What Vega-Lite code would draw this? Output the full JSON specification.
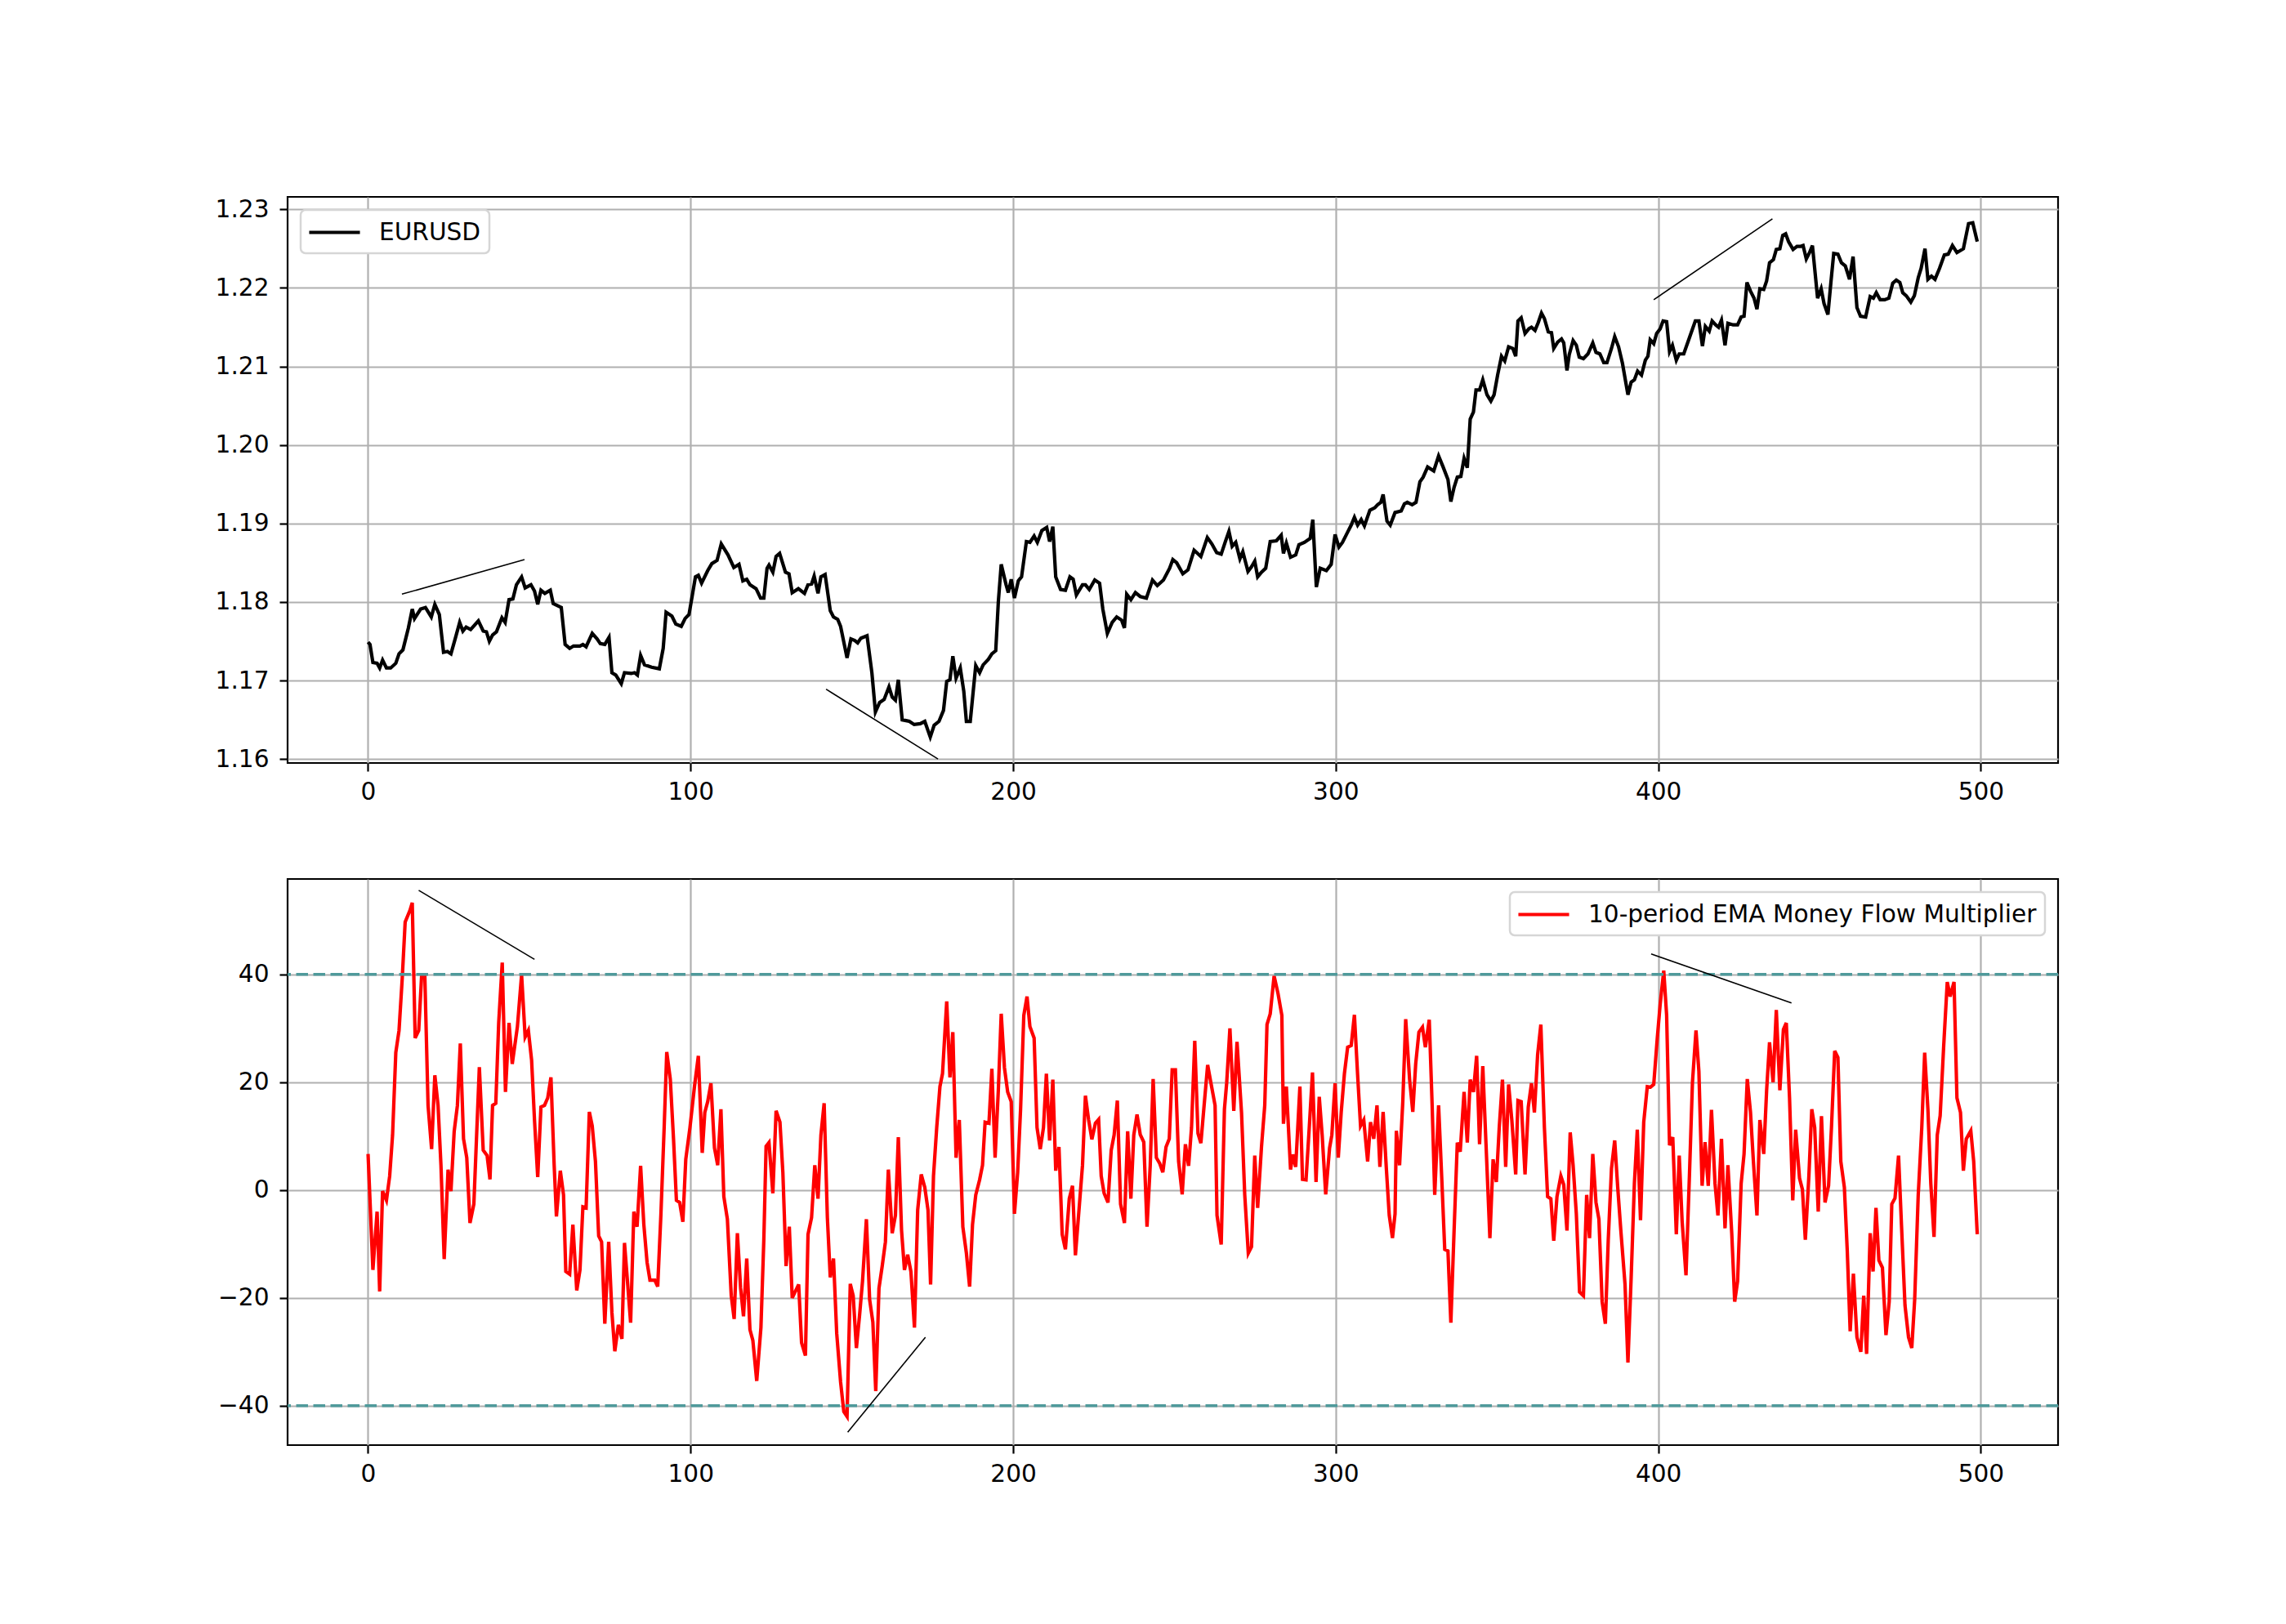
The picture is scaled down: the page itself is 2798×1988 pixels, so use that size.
{
"$schema": "https://vega.github.io/schema/vega-lite/v6.json",
"background": "white",
"padding": {"left": 262, "top": 239, "right": 10, "bottom": 10},
"spacing": 142,
"bounds": "flush",
"resolve": {"scale": {"color": "independent"}, "legend": {"color": "independent"}},
"config": {
  "font": "DejaVu Sans",
  "view": {"stroke": "black", "strokeWidth": 2.2},
  "axis": {"labelFont": "DejaVu Sans", "labelFontSize": 29.6, "labelColor": "black", "tickColor": "black", "tickSize": 10, "tickWidth": 2.2, "gridColor": "#b0b0b0", "gridWidth": 2.2, "domain": false, "title": null},
  "axisX": {"labelPadding": 11},
  "axisY": {"labelPadding": 13},
  "legend": {"title": null, "offset": 16, "labelFont": "DejaVu Sans", "labelFontSize": 29.6, "labelColor": "black", "labelLimit": 0, "strokeColor": "#d6d6d6", "strokeWidth": 2.5, "fillColor": "white", "cornerRadius": 6, "padding": 10, "symbolType": "M-2.07,0H2.07", "symbolSize": 900, "symbolStrokeWidth": 4.2, "symbolOffset": 14, "labelOffset": 37}
},
"datasets": {
"price": [
{"i":0,"p":1.1749},{"i":0.6,"p":1.1746},{"i":1.5,"p":1.1723},{"i":2.8,"p":1.1722},{"i":3.6,"p":1.1716},{"i":4.5,"p":1.1726},{"i":5.7,"p":1.1716},{"i":7,"p":1.1716},{"i":8.6,"p":1.1722},{"i":9.6,"p":1.1734},{"i":10.8,"p":1.1739},{"i":12.5,"p":1.1767},{"i":13.7,"p":1.1791},{"i":14.4,"p":1.1779},{"i":16.3,"p":1.1791},{"i":17.8,"p":1.1793},{"i":19.6,"p":1.1781},{"i":20.7,"p":1.1797},{"i":22.1,"p":1.1784},{"i":23.4,"p":1.1736},{"i":24.6,"p":1.1737},{"i":25.7,"p":1.1734},{"i":27,"p":1.1753},{"i":28.4,"p":1.1774},{"i":29.4,"p":1.1763},{"i":30.4,"p":1.1768},{"i":31.8,"p":1.1765},{"i":34.2,"p":1.1776},{"i":35.7,"p":1.1763},{"i":36.7,"p":1.1762},{"i":37.6,"p":1.175},{"i":38.6,"p":1.1758},{"i":39.8,"p":1.1762},{"i":41.5,"p":1.178},{"i":42.5,"p":1.1774},{"i":43.7,"p":1.1803},{"i":44.9,"p":1.1804},{"i":46,"p":1.1822},{"i":47.6,"p":1.1832},{"i":48.7,"p":1.1818},{"i":50.5,"p":1.1822},{"i":51.6,"p":1.1814},{"i":52.6,"p":1.1797},{"i":53.6,"p":1.1815},{"i":54.8,"p":1.1811},{"i":56.5,"p":1.1815},{"i":57.4,"p":1.1798},{"i":59.9,"p":1.1793},{"i":61.1,"p":1.1746},{"i":62.5,"p":1.1741},{"i":63.7,"p":1.1744},{"i":65.7,"p":1.1744},{"i":66.6,"p":1.1746},{"i":67.6,"p":1.1743},{"i":69.5,"p":1.176},{"i":71,"p":1.1753},{"i":72,"p":1.1747},{"i":73.4,"p":1.1746},{"i":74.7,"p":1.1755},{"i":75.6,"p":1.171},{"i":76.8,"p":1.1707},{"i":78.5,"p":1.1696},{"i":79.5,"p":1.171},{"i":81.6,"p":1.1709},{"i":82.6,"p":1.171},{"i":83.5,"p":1.1707},{"i":84.5,"p":1.1732},{"i":85.7,"p":1.172},{"i":87.9,"p":1.1717},{"i":90.3,"p":1.1715},{"i":91.5,"p":1.1741},{"i":92.4,"p":1.1787},{"i":94.2,"p":1.1782},{"i":95.4,"p":1.1772},{"i":97.1,"p":1.1769},{"i":98.3,"p":1.1779},{"i":99.5,"p":1.1784},{"i":100.5,"p":1.1808},{"i":101.5,"p":1.1832},{"i":102.4,"p":1.1834},{"i":103.4,"p":1.1824},{"i":105.3,"p":1.184},{"i":106.6,"p":1.1849},{"i":108.2,"p":1.1853},{"i":109.5,"p":1.1874},{"i":111.6,"p":1.186},{"i":113.4,"p":1.1844},{"i":115,"p":1.1848},{"i":116.2,"p":1.1827},{"i":117.4,"p":1.1829},{"i":118.4,"p":1.1822},{"i":120.3,"p":1.1817},{"i":121.7,"p":1.1805},{"i":122.7,"p":1.1805},{"i":123.7,"p":1.1843},
{"i":124.3,"p":1.1847},{"i":125.5,"p":1.1838},{"i":126.5,"p":1.1858},{"i":127.6,"p":1.1862},{"i":129.4,"p":1.1838},{"i":130.5,"p":1.1836},{"i":131.5,"p":1.1812},{"i":133.4,"p":1.1817},{"i":135.3,"p":1.1811},{"i":136.4,"p":1.1822},{"i":137.5,"p":1.1823},{"i":138.3,"p":1.1833},{"i":139.5,"p":1.1811},{"i":140.4,"p":1.1832},{"i":141.7,"p":1.1835},{"i":143.3,"p":1.1789},{"i":144.3,"p":1.1781},{"i":145.6,"p":1.1778},{"i":146.5,"p":1.1769},{"i":148.5,"p":1.1729},{"i":149.7,"p":1.1753},{"i":150.9,"p":1.1751},{"i":151.8,"p":1.1748},{"i":152.8,"p":1.1754},{"i":154.7,"p":1.1757},{"i":156.2,"p":1.171},{"i":157.3,"p":1.166},{"i":158.6,"p":1.1672},{"i":160,"p":1.1676},{"i":161.5,"p":1.1692},{"i":162.5,"p":1.1679},{"i":163.5,"p":1.1675},{"i":164.4,"p":1.1701},{"i":165.6,"p":1.165},{"i":166.8,"p":1.1649},{"i":167.8,"p":1.1648},{"i":169.3,"p":1.1644},{"i":171.2,"p":1.1645},{"i":172.6,"p":1.1648},{"i":174.3,"p":1.1628},{"i":175.5,"p":1.1643},{"i":177,"p":1.1648},{"i":178.4,"p":1.1662},{"i":179.4,"p":1.1699},{"i":180.4,"p":1.1701},{"i":181.3,"p":1.1731},{"i":182.3,"p":1.1703},{"i":183.6,"p":1.1716},{"i":184.7,"p":1.1686},{"i":185.5,"p":1.1648},{"i":186.7,"p":1.1648},{"i":188.4,"p":1.1719},{"i":189.6,"p":1.171},{"i":190.7,"p":1.172},{"i":192.3,"p":1.1727},{"i":193.4,"p":1.1734},{"i":194.6,"p":1.1738},{"i":195.4,"p":1.18},{"i":196.3,"p":1.1848},{"i":197.8,"p":1.1822},{"i":198.5,"p":1.1812},{"i":199.4,"p":1.1829},{"i":200.4,"p":1.1805},{"i":201.6,"p":1.1827},{"i":202.6,"p":1.1832},{"i":204.1,"p":1.1877},{"i":205.2,"p":1.1876},{"i":206.5,"p":1.1884},{"i":207.5,"p":1.1876},{"i":208.9,"p":1.1891},{"i":210.4,"p":1.1895},{"i":211.3,"p":1.1877},{"i":212.3,"p":1.1896},{"i":213.2,"p":1.1832},{"i":214.7,"p":1.1816},{"i":216.2,"p":1.1815},{"i":217.6,"p":1.1832},{"i":218.6,"p":1.1829},{"i":219.6,"p":1.1809},{"i":221.5,"p":1.1822},{"i":222.4,"p":1.1822},{"i":223.6,"p":1.1816},{"i":225.3,"p":1.1828},{"i":226.8,"p":1.1824},{"i":227.8,"p":1.1791},{"i":229.2,"p":1.176},{"i":230.7,"p":1.1774},{"i":232.1,"p":1.1781},{"i":233.6,"p":1.1777},{"i":234.5,"p":1.1767},{"i":235.2,"p":1.181},{"i":236.5,"p":1.1803},{"i":237.9,"p":1.1812},{"i":239.4,"p":1.1807},{"i":241.3,"p":1.1805},{"i":243.2,"p":1.1828},{"i":244.7,"p":1.1821},{"i":246.6,"p":1.1828},{"i":248.5,"p":1.1843},{"i":249.5,"p":1.1854},{"i":250.7,"p":1.185},{"i":252.6,"p":1.1836},{"i":254.2,"p":1.1841},{"i":256.1,"p":1.1866},{"i":258.2,"p":1.1858},{"i":260.2,"p":1.1882},{"i":261.6,"p":1.1874},{"i":263.1,"p":1.1863},{"i":264.5,"p":1.1861},{"i":265.8,"p":1.1877},{"i":266.9,"p":1.189},{"i":267.9,"p":1.1871},{"i":269,"p":1.1876},{"i":270.3,"p":1.1855},
{"i":271.2,"p":1.1864},{"i":272.8,"p":1.1839},{"i":273.9,"p":1.1845},{"i":274.9,"p":1.1852},{"i":275.8,"p":1.1832},{"i":277,"p":1.1838},{"i":278.3,"p":1.1843},{"i":279.7,"p":1.1877},{"i":281.6,"p":1.1878},{"i":283.1,"p":1.1885},{"i":283.8,"p":1.1862},{"i":284.7,"p":1.1875},{"i":286,"p":1.1857},{"i":287.6,"p":1.186},{"i":288.6,"p":1.1873},{"i":290.3,"p":1.1876},{"i":292.1,"p":1.1881},{"i":292.9,"p":1.1905},{"i":294,"p":1.1819},{"i":295.2,"p":1.1843},{"i":297.1,"p":1.184},{"i":298.6,"p":1.1848},{"i":299.8,"p":1.1886},{"i":301,"p":1.187},{"i":302.1,"p":1.1876},{"i":303.7,"p":1.1889},{"i":304.8,"p":1.1898},{"i":305.8,"p":1.1908},{"i":306.8,"p":1.1898},{"i":307.9,"p":1.1905},{"i":308.9,"p":1.1897},{"i":310.6,"p":1.1917},{"i":312.1,"p":1.192},{"i":313,"p":1.1924},{"i":314,"p":1.1927},{"i":314.7,"p":1.1937},{"i":315.9,"p":1.1903},{"i":316.9,"p":1.1898},{"i":318.4,"p":1.1914},{"i":320.3,"p":1.1916},{"i":321.3,"p":1.1925},{"i":322.2,"p":1.1927},{"i":323.7,"p":1.1924},{"i":324.9,"p":1.1927},{"i":326.1,"p":1.1953},{"i":327.1,"p":1.1959},{"i":328.5,"p":1.1972},{"i":330.4,"p":1.1967},{"i":331.9,"p":1.1986},{"i":333.3,"p":1.1972},{"i":334.8,"p":1.1956},{"i":335.7,"p":1.1928},{"i":336.7,"p":1.1946},{"i":337.7,"p":1.1959},{"i":338.8,"p":1.196},{"i":339.8,"p":1.1983},{"i":340.8,"p":1.1971},{"i":341.7,"p":1.2033},{"i":342.7,"p":1.2042},{"i":343.5,"p":1.207},{"i":344.6,"p":1.207},{"i":345.6,"p":1.2083},{"i":346.9,"p":1.2064},{"i":348.1,"p":1.2056},{"i":349.1,"p":1.2064},{"i":350.2,"p":1.2089},{"i":351.4,"p":1.2113},{"i":352.4,"p":1.2107},{"i":353.6,"p":1.2125},{"i":354.9,"p":1.2123},{"i":355.8,"p":1.2113},{"i":356.5,"p":1.2158},{"i":357.5,"p":1.2162},{"i":358.7,"p":1.2142},{"i":359.9,"p":1.2148},{"i":360.7,"p":1.215},{"i":361.8,"p":1.2146},{"i":362.8,"p":1.2156},{"i":363.8,"p":1.2168},{"i":364.7,"p":1.2161},{"i":365.9,"p":1.2144},{"i":366.9,"p":1.2143},{"i":367.6,"p":1.2123},{"i":368.8,"p":1.2131},{"i":370,"p":1.2135},{"i":370.7,"p":1.213},{"i":371.7,"p":1.2095},{"i":372.4,"p":1.2115},{"i":373.6,"p":1.2133},{"i":374.6,"p":1.2127},{"i":375.5,"p":1.2112},{"i":376.8,"p":1.211},{"i":378.2,"p":1.2116},{"i":379.7,"p":1.213},{"i":380.7,"p":1.2118},{"i":381.9,"p":1.2116},{"i":383.1,"p":1.2105},{"i":384.1,"p":1.2105},{"i":385.5,"p":1.2123},{"i":386.5,"p":1.2138},{"i":387.7,"p":1.2125},{"i":388.9,"p":1.2104},{"i":390.6,"p":1.2064},{"i":391.6,"p":1.208},{"i":392.6,"p":1.2083},
{"i":393.6,"p":1.2094},{"i":394.8,"p":1.2089},{"i":396,"p":1.2108},{"i":396.8,"p":1.2113},{"i":397.5,"p":1.2134},{"i":398.6,"p":1.2129},{"i":399.5,"p":1.2142},{"i":400.6,"p":1.2148},{"i":401.5,"p":1.2158},{"i":402.6,"p":1.2157},{"i":403.5,"p":1.2119},{"i":404.4,"p":1.2127},{"i":405.6,"p":1.2108},{"i":406.5,"p":1.2116},{"i":407.9,"p":1.2116},{"i":409.7,"p":1.2137},{"i":411.5,"p":1.2158},{"i":412.6,"p":1.2158},{"i":413.7,"p":1.2126},{"i":414.6,"p":1.2151},{"i":415.8,"p":1.2145},{"i":416.7,"p":1.2158},{"i":417.8,"p":1.2153},{"i":418.7,"p":1.215},{"i":419.6,"p":1.2159},{"i":420.7,"p":1.2127},{"i":421.6,"p":1.2155},{"i":423.2,"p":1.2153},{"i":424.6,"p":1.2153},{"i":425.7,"p":1.2163},{"i":426.6,"p":1.2164},{"i":427.5,"p":1.2207},{"i":428.6,"p":1.2196},{"i":429.7,"p":1.2187},{"i":430.6,"p":1.2173},{"i":431.5,"p":1.2199},{"i":432.7,"p":1.2198},{"i":433.6,"p":1.2209},{"i":434.5,"p":1.2232},{"i":435.7,"p":1.2236},{"i":436.6,"p":1.2249},{"i":437.7,"p":1.225},{"i":438.6,"p":1.2267},{"i":439.5,"p":1.2269},{"i":440.4,"p":1.2259},{"i":441.8,"p":1.2249},{"i":443,"p":1.2253},{"i":444.2,"p":1.2253},{"i":444.9,"p":1.2254},{"i":445.9,"p":1.2237},{"i":446.9,"p":1.2245},{"i":447.8,"p":1.2254},{"i":449.4,"p":1.2187},{"i":450.5,"p":1.2199},{"i":451.4,"p":1.218},{"i":452.6,"p":1.2166},{"i":453.5,"p":1.2206},{"i":454.4,"p":1.2244},{"i":455.7,"p":1.2243},{"i":456.8,"p":1.2232},{"i":458,"p":1.2228},{"i":459.3,"p":1.2211},{"i":460.4,"p":1.224},{"i":461.6,"p":1.2175},{"i":462.7,"p":1.2164},{"i":464.3,"p":1.2163},{"i":465.7,"p":1.2189},{"i":466.7,"p":1.2187},{"i":467.6,"p":1.2194},{"i":468.8,"p":1.2185},{"i":470.2,"p":1.2185},{"i":471.5,"p":1.2187},{"i":472.7,"p":1.2206},{"i":473.8,"p":1.221},{"i":474.9,"p":1.2207},{"i":475.8,"p":1.2194},{"i":476.9,"p":1.219},{"i":478.3,"p":1.2182},{"i":479.4,"p":1.219},{"i":480.6,"p":1.2213},{"i":481.5,"p":1.2225},{"i":482.7,"p":1.225},{"i":483.6,"p":1.2211},{"i":484.7,"p":1.2215},{"i":485.8,"p":1.2211},{"i":487.2,"p":1.2225},{"i":488.7,"p":1.2242},{"i":489.9,"p":1.2243},{"i":491.2,"p":1.2254},{"i":492.6,"p":1.2245},{"i":494.6,"p":1.225},{"i":496.2,"p":1.2282},{"i":497.5,"p":1.2283},{"i":498.9,"p":1.2259}
],
"mfm": [
{"i":0,"m":6.7},{"i":1.5,"m":-14.8},{"i":2.8,"m":-4},{"i":3.6,"m":-18.8},{"i":4.5,"m":-0.2},{"i":5.7,"m":-1.9},{"i":6.7,"m":2.6},{"i":7.6,"m":10.2},{"i":8.6,"m":25.5},{"i":9.6,"m":29.6},{"i":10.6,"m":39.3},{"i":11.5,"m":49.7},{"i":13,"m":51.9},{"i":13.7,"m":53.3},{"i":14.6,"m":28.2},{"i":15.7,"m":29.6},{"i":16.6,"m":39.7},{"i":17.6,"m":39.7},{"i":18.6,"m":15.7},{"i":19.7,"m":7.6},{"i":20.7,"m":21.3},{"i":21.7,"m":15.7},{"i":22.6,"m":4.6},{"i":23.6,"m":-12.8},{"i":24.8,"m":3.8},{"i":25.7,"m":-0.2},{"i":26.7,"m":10.9},{"i":27.7,"m":15.7},{"i":28.6,"m":27.2},{"i":29.6,"m":9.5},{"i":30.6,"m":6},{"i":31.6,"m":-6.1},{"i":32.8,"m":-2.6},{"i":34.5,"m":22.8},{"i":35.7,"m":7.4},{"i":36.9,"m":6.4},{"i":37.8,"m":2},{"i":38.6,"m":15.7},{"i":39.6,"m":16.1},{"i":40.5,"m":31},{"i":41.6,"m":42.2},{"i":42.6,"m":18.2},{"i":43.7,"m":31},{"i":44.7,"m":23.4},{"i":46.3,"m":30.3},{"i":47.6,"m":39.9},{"i":48.7,"m":28.4},{"i":49.7,"m":29.6},{"i":50.7,"m":24.1},{"i":51.6,"m":13},{"i":52.6,"m":2.4},{"i":53.6,"m":15.4},{"i":54.7,"m":15.7},{"i":55.7,"m":17.1},{"i":56.7,"m":20.9},{"i":57.7,"m":4.6},{"i":58.4,"m":-4.9},{"i":59.6,"m":3.6},{"i":60.6,"m":-0.9},{"i":61.3,"m":-15.1},{"i":62.5,"m":-15.6},{"i":63.5,"m":-6.4},{"i":64.7,"m":-18.6},{"i":65.7,"m":-14.8},{"i":66.6,"m":-3.1},{"i":67.6,"m":-3.3},{"i":68.6,"m":14.5},{"i":69.5,"m":11.9},{"i":70.5,"m":5.3},{"i":71.5,"m":-8.5},{"i":72.4,"m":-9.6},{"i":73.4,"m":-24.8},{"i":74.6,"m":-9.6},{"i":75.6,"m":-22.7},{"i":76.5,"m":-29.9},{"i":77.6,"m":-25},{"i":78.7,"m":-27.6},{"i":79.5,"m":-9.8},{"i":80.5,"m":-17.5},{"i":81.4,"m":-24.6},{"i":82.4,"m":-4},{"i":83.4,"m":-6.8},{"i":84.5,"m":4.5},{"i":85.5,"m":-6.4},{"i":86.5,"m":-13.4},{"i":87.4,"m":-16.7},{"i":88.9,"m":-16.7},{"i":89.8,"m":-17.9},{"i":90.8,"m":-4.4},{"i":91.8,"m":11.6},{"i":92.6,"m":25.6},{"i":93.7,"m":20.6},{"i":94.7,"m":9.5},{"i":95.6,"m":-1.9},{"i":96.6,"m":-2.3},{"i":97.6,"m":-5.9},{"i":98.5,"m":5.7},{"i":99.8,"m":11.6},{"i":101.2,"m":19.2},{"i":102.4,"m":24.9},{"i":103.6,"m":6.9},{"i":104.4,"m":14.4},{"i":105.3,"m":16.4},{"i":106.3,"m":19.8},{"i":107.4,"m":7.8},{"i":108.4,"m":4.6},{"i":109.4,"m":15},{"i":110.3,"m":-1.2},{"i":111.4,"m":-5.4},{"i":112.6,"m":-19.6},{"i":113.5,"m":-23.9},{"i":114.5,"m":-8},{"i":115.5,"m":-18.2},{"i":116.4,"m":-23.4},{"i":117.4,"m":-12.7},{"i":118.4,"m":-25.9},{"i":119.3,"m":-27.9},{"i":120.5,"m":-35.4},{"i":121.8,"m":-25.5},{"i":122.7,"m":-9.2},{"i":123.4,"m":8.1},
{"i":124.3,"m":8.8},{"i":125.5,"m":-0.6},{"i":126.5,"m":14.7},{"i":127.7,"m":12.6},{"i":128.6,"m":3.3},{"i":129.6,"m":-14.1},{"i":130.6,"m":-6.8},{"i":131.5,"m":-20},{"i":133.5,"m":-17.5},{"i":134.4,"m":-28.3},{"i":135.6,"m":-30.7},{"i":136.4,"m":-8.2},{"i":137.5,"m":-5.1},{"i":138.5,"m":4.6},{"i":139.5,"m":-1.6},{"i":140.4,"m":10.2},{"i":141.4,"m":16.1},{"i":142.4,"m":-5.1},{"i":143.3,"m":-16.2},{"i":144.3,"m":-12.7},{"i":145.3,"m":-26.6},{"i":146.5,"m":-35.6},{"i":147.5,"m":-41.1},{"i":148.5,"m":-42},{"i":149.5,"m":-17.4},{"i":150.4,"m":-19.6},{"i":151.4,"m":-29.3},{"i":152.4,"m":-23.1},{"i":153.3,"m":-16.9},{"i":154.5,"m":-5.4},{"i":155.5,"m":-20.3},{"i":156.5,"m":-24.5},{"i":157.4,"m":-37.3},{"i":158.4,"m":-18.2},{"i":159.4,"m":-14.1},{"i":160.4,"m":-9.6},{"i":161.3,"m":3.8},{"i":162.5,"m":-8},{"i":163.5,"m":-4.7},{"i":164.4,"m":9.8},{"i":165.4,"m":-7.5},{"i":166.3,"m":-14.8},{"i":167.3,"m":-12},{"i":168.3,"m":-15.1},{"i":169.4,"m":-25.5},{"i":170.4,"m":-3.7},{"i":171.5,"m":2.9},{"i":172.6,"m":0.5},{"i":173.6,"m":-3.7},{"i":174.4,"m":-17.5},{"i":175.3,"m":2.6},{"i":176.3,"m":11.6},{"i":177.3,"m":19.2},{"i":178.1,"m":21.6},{"i":179.4,"m":35},{"i":180.4,"m":20.9},{"i":181.3,"m":29.3},{"i":182.3,"m":6},{"i":183.3,"m":13},{"i":184.4,"m":-6.8},{"i":185.5,"m":-11.7},{"i":186.5,"m":-17.9},{"i":187.4,"m":-6.4},{"i":188.4,"m":-0.9},{"i":189.6,"m":1.9},{"i":190.5,"m":4.6},{"i":191.3,"m":12.6},{"i":192.5,"m":12.4},{"i":193.4,"m":22.5},{"i":194.4,"m":6},{"i":195.4,"m":18.5},{"i":196.3,"m":32.7},{"i":197.3,"m":22.7},{"i":198.3,"m":18.2},{"i":199.4,"m":16.4},{"i":200.4,"m":-4.4},{"i":201.4,"m":3.3},{"i":202.3,"m":15},{"i":203.3,"m":32.4},{"i":204.3,"m":35.9},{"i":205.2,"m":30.3},{"i":206.5,"m":28.2},{"i":207.4,"m":11.6},{"i":208.4,"m":7.6},{"i":209.4,"m":11.6},{"i":210.3,"m":21.6},{"i":211.3,"m":9.2},{"i":212.3,"m":20.5},{"i":213.2,"m":3.6},{"i":214.2,"m":8},{"i":215.2,"m":-8.2},{"i":216.2,"m":-11},{"i":217.4,"m":-1.6},{"i":218.4,"m":0.8},{"i":219.3,"m":-12.1},{"i":220.5,"m":-3},{"i":221.5,"m":4.6},{"i":222.4,"m":17.5},{"i":223.4,"m":13},{"i":224.4,"m":9.4},{"i":225.5,"m":12.4},{"i":226.5,"m":13.1},{"i":227.3,"m":2.6},{"i":228.2,"m":-0.6},{"i":229.4,"m":-2.3},{"i":230.4,"m":7.4},{"i":231.3,"m":10.2},{"i":232.3,"m":16.6},{"i":233.3,"m":-2.6},{"i":234.5,"m":-6.1},{"i":235.5,"m":10.9},{"i":236.5,"m":-1.6},{"i":237.4,"m":10.2},{"i":238.4,"m":14},{"i":239.4,"m":10.3},{"i":240.5,"m":8.9},{"i":241.5,"m":-6.8},{"i":242.5,"m":4.6},{"i":243.4,"m":20.6},{"i":244.4,"m":6},{"i":245.4,"m":5},{"i":246.4,"m":3.3},{"i":247.4,"m":8},{"i":248.4,"m":9.5},{"i":249.3,"m":22.3},{"i":250.3,"m":22.3},{"i":251.3,"m":5.3},{"i":252.4,"m":-0.8},{"i":253.4,"m":8.5},{"i":254.4,"m":4.5},{"i":255.3,"m":11.6},{"i":256.3,"m":27.7},{"i":257.3,"m":10.5},{"i":258.2,"m":8.7},{"i":259.2,"m":15.7},{"i":260.3,"m":23.2},{"i":261.3,"m":19.9},{"i":262.6,"m":15.7},{"i":263.2,"m":-4.7},{"i":264.5,"m":-10.1},{"i":265.5,"m":15},{"i":266.2,"m":19.9},{"i":267.2,"m":30},{"i":268.4,"m":14.7},{"i":269.4,"m":27.5},
{"i":270.8,"m":14.4},{"i":271.8,"m":-0.9},{"i":272.9,"m":-11.7},{"i":273.9,"m":-10.5},{"i":274.9,"m":6.4},{"i":275.8,"m":-3.3},{"i":277,"m":8.1},{"i":278,"m":15.7},{"i":278.7,"m":30.7},{"i":279.7,"m":32.7},{"i":280.9,"m":39.7},{"i":282.1,"m":36.5},{"i":283.3,"m":32.4},{"i":283.8,"m":12.3},{"i":284.7,"m":19.2},{"i":286,"m":3.8},{"i":286.7,"m":6.6},{"i":287.6,"m":4.3},{"i":288.9,"m":19.2},{"i":289.7,"m":2},{"i":290.8,"m":1.9},{"i":291.8,"m":11.6},{"i":292.8,"m":21.8},{"i":293.9,"m":1.5},{"i":294.9,"m":17.3},{"i":295.8,"m":10.2},{"i":296.9,"m":-0.8},{"i":298.1,"m":7.8},{"i":298.8,"m":10.2},{"i":299.8,"m":19.8},{"i":300.8,"m":6},{"i":301.7,"m":14.4},{"i":302.7,"m":21.6},{"i":303.7,"m":26.5},{"i":304.8,"m":26.8},{"i":305.8,"m":32.5},{"i":306.8,"m":21.3},{"i":307.7,"m":11.9},{"i":308.7,"m":13},{"i":309.9,"m":5.3},{"i":310.8,"m":12.6},{"i":311.8,"m":9.5},{"i":312.8,"m":15.7},{"i":313.7,"m":4.3},{"i":314.7,"m":14.5},{"i":315.7,"m":4},{"i":316.6,"m":-4.7},{"i":317.6,"m":-8.9},{"i":318.4,"m":-4.4},{"i":318.8,"m":11},{"i":319.8,"m":4.6},{"i":320.8,"m":16.4},{"i":321.7,"m":31.7},{"i":322.9,"m":20.6},{"i":323.9,"m":14.5},{"i":324.8,"m":23.4},{"i":325.8,"m":29.3},{"i":326.9,"m":30.2},{"i":327.8,"m":26.5},{"i":329,"m":31.6},{"i":329.9,"m":15.7},{"i":330.7,"m":-0.9},{"i":331.9,"m":15.7},{"i":332.9,"m":1.9},{"i":333.8,"m":-11},{"i":334.8,"m":-11.3},{"i":335.7,"m":-24.6},{"i":336.7,"m":-7.5},{"i":337.7,"m":8.8},{"i":338.6,"m":7.1},{"i":339.8,"m":18.2},{"i":340.8,"m":8.8},{"i":341.7,"m":20.5},{"i":342.7,"m":18.2},{"i":343.7,"m":24.9},{"i":344.6,"m":8.5},{"i":345.6,"m":23},{"i":346.6,"m":8.5},{"i":347.8,"m":-8.9},{"i":348.8,"m":5.7},{"i":349.8,"m":1.5},{"i":350.7,"m":11.6},{"i":351.7,"m":20.5},{"i":352.7,"m":4.3},{"i":353.6,"m":19.6},{"i":354.6,"m":13},{"i":355.8,"m":2.9},{"i":356.5,"m":16.6},{"i":357.5,"m":16.4},{"i":358.7,"m":2.9},{"i":359.7,"m":15.4},{"i":360.7,"m":19.8},{"i":361.6,"m":14.4},{"i":362.6,"m":25.1},{"i":363.6,"m":30.7},{"i":364.7,"m":11.6},{"i":365.7,"m":-1.2},{"i":366.7,"m":-1.6},{"i":367.6,"m":-9.4},{"i":368.6,"m":-1.2},{"i":369.8,"m":2.6},{"i":370.7,"m":1},{"i":371.7,"m":-7.5},{"i":372.7,"m":10.7},{"i":373.6,"m":4.6},{"i":374.6,"m":-4.4},{"i":375.6,"m":-18.9},{"i":376.8,"m":-19.6},{"i":377.8,"m":-0.9},{"i":378.7,"m":-8.9},{"i":379.7,"m":6.7},{"i":380.7,"m":-2.3},{"i":381.6,"m":-5.4},{"i":382.6,"m":-20.7},{"i":383.6,"m":-24.8},{"i":384.5,"m":-9.2},{"i":385.5,"m":4},{"i":386.5,"m":9.2},{"i":387.4,"m":0.8},{"i":388.4,"m":-7.5},{"i":389.7,"m":-17.5},{"i":390.6,"m":-32},{"i":391.6,"m":-16.2},{"i":392.6,"m":1.2},{"i":393.5,"m":11.2},{"i":394.5,"m":-5.6},{"i":395.5,"m":12.6},{"i":396.6,"m":19.2},{"i":397.6,"m":19.1},{"i":398.6,"m":19.6},
{"i":399.7,"m":28.2},{"i":400.6,"m":34.5},{"i":401.7,"m":40.7},{"i":402.6,"m":32.4},{"i":403.5,"m":8.3},{"i":404.5,"m":9.8},{"i":405.6,"m":-8.2},{"i":406.5,"m":6.4},{"i":407.4,"m":-5.8},{"i":408.6,"m":-15.8},{"i":409.7,"m":3.3},{"i":410.6,"m":19.9},{"i":411.7,"m":29.6},{"i":412.6,"m":22},{"i":413.6,"m":0.8},{"i":414.5,"m":8.9},{"i":415.5,"m":0.8},{"i":416.5,"m":14.9},{"i":417.6,"m":1.2},{"i":418.5,"m":-4.7},{"i":419.6,"m":9.5},{"i":420.7,"m":-7.1},{"i":421.6,"m":4.6},{"i":422.8,"m":-8.2},{"i":423.7,"m":-20.7},{"i":424.6,"m":-16.9},{"i":425.7,"m":1.2},{"i":426.6,"m":6.7},{"i":427.6,"m":20.6},{"i":428.6,"m":14.4},{"i":429.5,"m":5.3},{"i":430.6,"m":-4.7},{"i":431.5,"m":13},{"i":432.7,"m":6.7},{"i":433.6,"m":18.5},{"i":434.5,"m":27.4},{"i":435.6,"m":20},{"i":436.6,"m":33.4},{"i":437.7,"m":18.5},{"i":438.8,"m":29.8},{"i":439.7,"m":31},{"i":440.7,"m":17.1},{"i":441.7,"m":-1.9},{"i":442.6,"m":11.2},{"i":443.8,"m":2.2},{"i":444.7,"m":0.1},{"i":445.6,"m":-9.2},{"i":446.7,"m":2.6},{"i":447.6,"m":15},{"i":448.5,"m":11.6},{"i":449.6,"m":-4},{"i":450.6,"m":13.7},{"i":451.7,"m":-2.3},{"i":452.8,"m":0.8},{"i":453.7,"m":11.6},{"i":454.7,"m":25.8},{"i":455.7,"m":24.6},{"i":456.6,"m":5.3},{"i":457.7,"m":0.5},{"i":458.6,"m":-11.3},{"i":459.5,"m":-26.2},{"i":460.5,"m":-15.5},{"i":461.6,"m":-27.3},{"i":462.8,"m":-30},{"i":463.7,"m":-19.6},{"i":464.6,"m":-30.4},{"i":465.7,"m":-8},{"i":466.6,"m":-15.1},{"i":467.5,"m":-3.3},{"i":468.4,"m":-13},{"i":469.5,"m":-14.4},{"i":470.6,"m":-26.9},{"i":471.6,"m":-20.7},{"i":472.4,"m":-2.6},{"i":473.4,"m":-1.5},{"i":474.5,"m":6.4},{"i":475.4,"m":-6.4},{"i":476.5,"m":-21.4},{"i":477.6,"m":-27.3},{"i":478.6,"m":-29.3},{"i":479.5,"m":-20.3},{"i":480.6,"m":-0.9},{"i":481.7,"m":11.6},{"i":482.6,"m":25.5},{"i":483.6,"m":15},{"i":484.5,"m":1.2},{"i":485.5,"m":-8.7},{"i":486.5,"m":10.2},{"i":487.4,"m":13.8},{"i":488.5,"m":26.8},{"i":489.6,"m":38.6},{"i":490.5,"m":35.9},{"i":491.7,"m":38.6},{"i":492.6,"m":17.1},{"i":493.7,"m":14.4},{"i":494.6,"m":3.6},{"i":495.5,"m":9.5},{"i":496.9,"m":11},{"i":497.8,"m":5.3},{"i":498.9,"m":-8.2}
],
"trendTop": [
{"g":"a","i":10.5,"v":1.181},{"g":"a","i":48.5,"v":1.1854},
{"g":"b","i":142,"v":1.1689},{"g":"b","i":176.7,"v":1.16},
{"g":"c","i":398.6,"v":1.2185},{"g":"c","i":435.4,"v":1.2288}
],
"trendBottom": [
{"g":"a","i":15.7,"v":55.6},{"g":"a","i":51.6,"v":42.8},
{"g":"b","i":148.7,"v":-44.9},{"g":"b","i":172.8,"v":-27.3},
{"g":"c","i":397.8,"v":43.8},{"g":"c","i":441.3,"v":34.7}
],
"levels": [{"lv": 40}, {"lv": -40}]
},
"vconcat": [
{
  "width": 2167, "height": 693,
  "layer": [
    {"data": {"name": "price"},
     "mark": {"type": "line", "strokeWidth": 4.2, "clip": true},
     "encoding": {
       "x": {"field": "i", "type": "quantitative", "scale": {"domain": [-24.95, 523.95], "nice": false, "zero": false}, "axis": {"values": [0,100,200,300,400,500], "format": "d"}},
       "y": {"field": "p", "type": "quantitative", "scale": {"domain": [1.1595, 1.2316], "nice": false, "zero": false}, "axis": {"values": [1.16,1.17,1.18,1.19,1.2,1.21,1.22,1.23], "format": ".2f"}},
       "color": {"datum": "EURUSD", "type": "nominal", "scale": {"range": ["black"]}, "legend": {"orient": "top-left"}}
     }},
    {"data": {"name": "trendTop"},
     "mark": {"type": "line", "color": "black", "strokeWidth": 1.6, "clip": true},
     "encoding": {
       "x": {"field": "i", "type": "quantitative", "scale": {"domain": [-24.95, 523.95], "nice": false, "zero": false}},
       "y": {"field": "v", "type": "quantitative", "scale": {"domain": [1.1595, 1.2316], "nice": false, "zero": false}},
       "detail": {"field": "g", "type": "nominal"}
     }}
  ]
},
{
  "width": 2167, "height": 693,
  "layer": [
    {"data": {"name": "mfm"},
     "mark": {"type": "line", "strokeWidth": 4.2, "clip": true},
     "encoding": {
       "x": {"field": "i", "type": "quantitative", "scale": {"domain": [-24.95, 523.95], "nice": false, "zero": false}, "axis": {"values": [0,100,200,300,400,500], "format": "d"}},
       "y": {"field": "m", "type": "quantitative", "scale": {"domain": [-47.3, 57.7], "nice": false, "zero": false}, "axis": {"values": [-40,-20,0,20,40], "format": "d"}},
       "color": {"datum": "10-period EMA Money Flow Multiplier", "type": "nominal", "scale": {"range": ["red"]}, "legend": {"orient": "top-right"}}
     }},
    {"data": {"name": "levels"},
     "mark": {"type": "rule", "color": "#4f9a9b", "strokeWidth": 3.5, "strokeDash": [14.5, 6.5]},
     "encoding": {
       "y": {"field": "lv", "type": "quantitative", "scale": {"domain": [-47.3, 57.7], "nice": false, "zero": false}}
     }},
    {"data": {"name": "trendBottom"},
     "mark": {"type": "line", "color": "black", "strokeWidth": 1.6, "clip": true},
     "encoding": {
       "x": {"field": "i", "type": "quantitative", "scale": {"domain": [-24.95, 523.95], "nice": false, "zero": false}},
       "y": {"field": "v", "type": "quantitative", "scale": {"domain": [-47.3, 57.7], "nice": false, "zero": false}},
       "detail": {"field": "g", "type": "nominal"}
     }}
  ]
}
]
}
